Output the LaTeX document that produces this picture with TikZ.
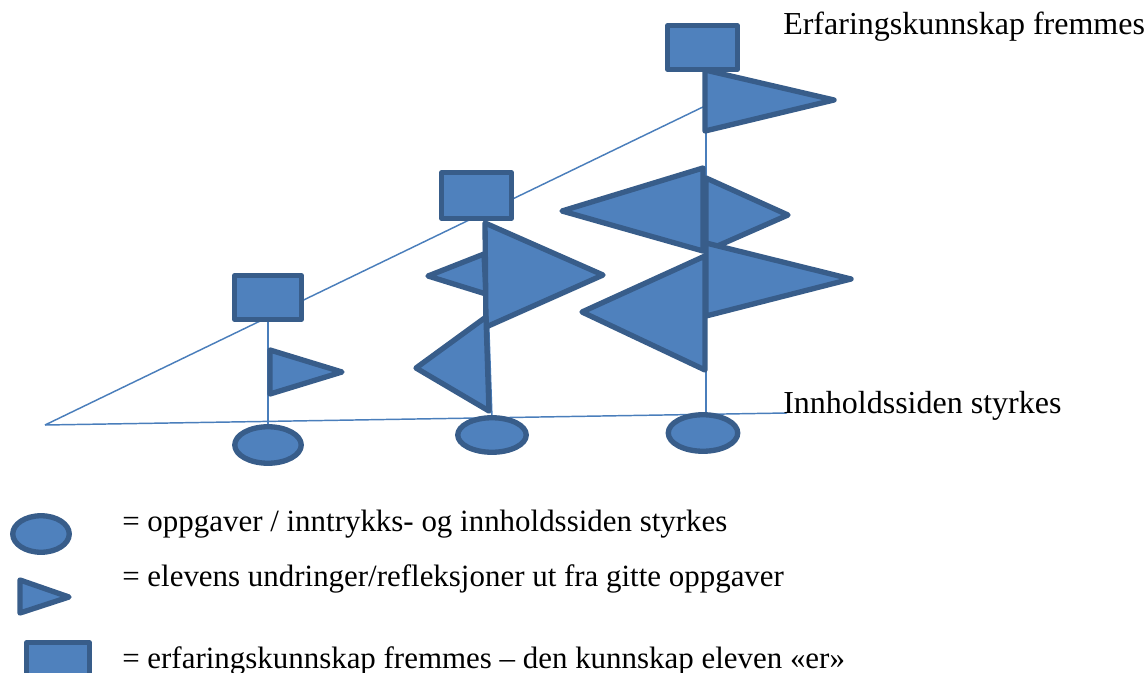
\documentclass[tikz,border=0pt]{standalone}
\usepackage{fontspec}
\setmainfont{Liberation Serif}
\usetikzlibrary{shapes.geometric,backgrounds}
\definecolor{fillb}{HTML}{4F81BD}
\definecolor{edgeb}{HTML}{385D8A}
\definecolor{lineb}{HTML}{4A7EBB}
\begin{document}
\begin{tikzpicture}[x=0.75pt,y=-0.75pt,
  blob/.style={fill=fillb, draw=edgeb, line width=4pt, line join=round},
  box/.style={blob, rectangle, inner sep=0pt, outer sep=0pt},
  oval/.style={blob, ellipse, inner sep=0pt, outer sep=0pt},
  thinline/.style={draw=lineb, line width=1.1pt},
  lbl/.style={anchor=base west, inner sep=0pt, font=\fontsize{24}{28}\selectfont},
  leg/.style={anchor=base west, inner sep=0pt, font=\fontsize{23.2}{28}\selectfont}]
\useasboundingbox (0,0) rectangle (1148,673);

% nodes: boxes and ellipses
\node[box, minimum width=66.5*0.75pt, minimum height=43.5*0.75pt] (box1) at (268,297.5) {};
\node[box, minimum width=69.5*0.75pt, minimum height=45.5*0.75pt] (box2) at (476.5,195.5) {};
\node[box, minimum width=69.5*0.75pt, minimum height=43.5*0.75pt] (box3) at (702.5,47.5) {};
\node[oval, minimum width=66.5*0.75pt, minimum height=36.5*0.75pt] (ell1) at (268,445) {};
\node[oval, minimum width=68.5*0.75pt, minimum height=34.5*0.75pt] (ell2) at (492,435) {};
\node[oval, minimum width=69.5*0.75pt, minimum height=36.5*0.75pt] (ell3) at (703,433) {};

\coordinate (corner) at (45,425);
\coordinate (tip) at (705,106);
\coordinate (baseend) at (787,413);
\coordinate (m1) at (485,223);
\coordinate (r1) at (706,72);

% thin connectors behind
\begin{scope}[on background layer]
\draw[thinline] (corner) -- (tip);
\draw[thinline] (corner) -- (baseend);
\draw[thinline] (box1.south) -- (ell1.north);
\draw[thinline] (box2.south -| m1) -- (ell2.north);
\draw[thinline] (box3.south -| r1) -- (ell3.north -| r1);
\end{scope}

% left column flag
\draw[blob] (270,350) -- (342,372) -- (270,394) -- cycle;

% middle column flags
\draw[blob] (428,276) -- (484,254) -- (486,294) -- cycle;
\draw[blob] (485,223) -- (603,275) -- (486,327) -- cycle;
\draw[blob] (416,368) -- (486,317) -- (489,411) -- cycle;

% right column flags
\draw[blob] (705,70) -- (834,100) -- (705,131) -- cycle;
\draw[blob] (562,211) -- (703,168) -- (703,251) -- cycle;
\draw[blob] (706,178) -- (788,215) -- (706,251) -- cycle;
\draw[blob] (706,243) -- (851,279) -- (706,316) -- cycle;
\draw[blob] (582,312) -- (705,256) -- (705,370) -- cycle;

% labels
\node[lbl] (t1) at (783,35) {Erfaringskunnskap fremmes};
\node[lbl] (t2) at (783,413) {Innholdssiden styrkes};

% legend
\node[oval, minimum width=56.5*0.75pt, minimum height=36.5*0.75pt] (lell) at (41,534) {};
\draw[blob] (20,580) -- (69,597) -- (20,613) -- cycle;
\node[box, minimum width=62.5*0.75pt, minimum height=45*0.75pt] (lbox) at (58,665) {};
\node[leg] (l1) at (122,531) {= oppgaver / inntrykks- og innholdssiden styrkes};
\node[leg] (l2) at (122,586) {= elevens undringer/refleksjoner ut fra gitte oppgaver};
\node[leg] (l3) at (122,668) {= erfaringskunnskap fremmes – den kunnskap eleven «er»};
\end{tikzpicture}
\end{document}
